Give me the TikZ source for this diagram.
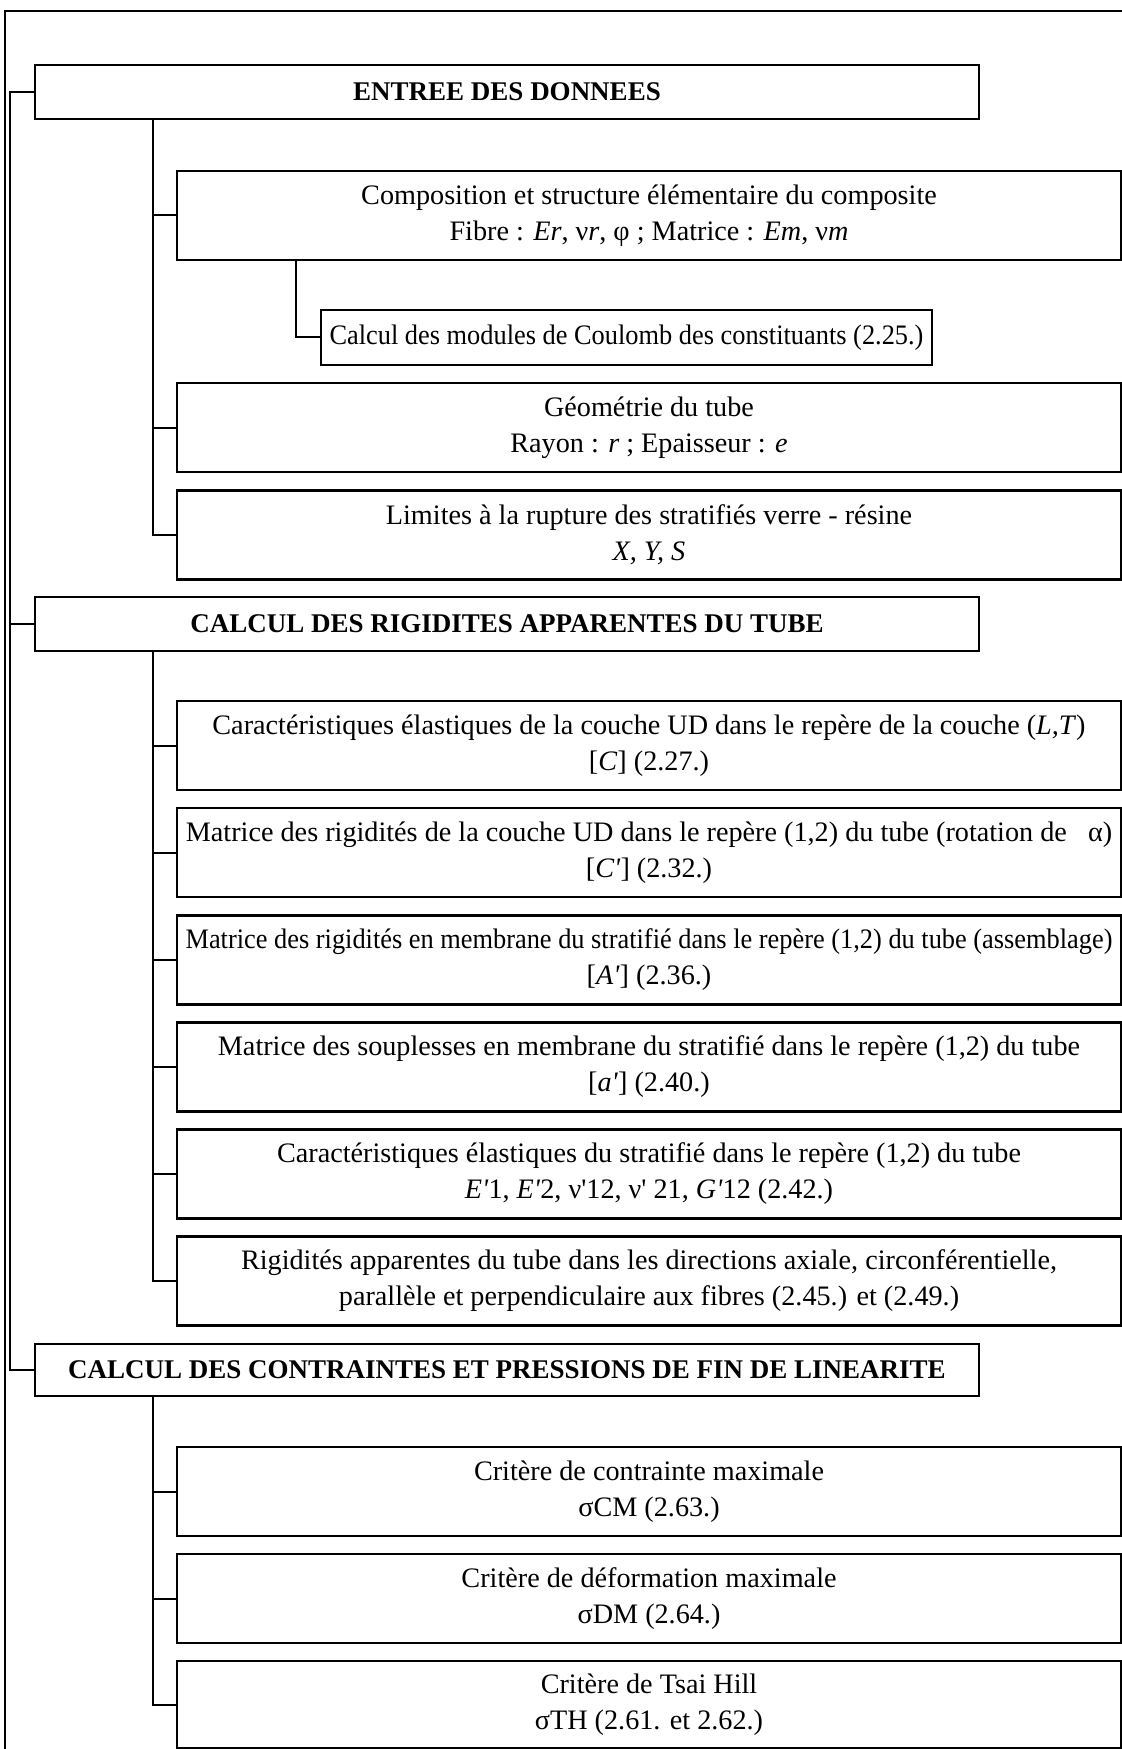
\documentclass[tikz,border=0pt]{standalone}
\usepackage{fontspec}
\setmainfont{Liberation Serif}[Ligatures=TeXOff]
\tikzset{
  box/.style={draw, line width=1.2pt, inner sep=0pt, align=center, font=\fontsize{14.1}{18}\selectfont},
  lvone/.style={box, minimum width=472pt, minimum height=27pt, font=\fontsize{13.5}{18}\selectfont\bfseries},
  lvtwo/.style={box, minimum width=472pt, minimum height=44.5pt},
  conn/.style={line width=1pt},
}
\begin{document}
\begin{tikzpicture}[x=0.5pt,y=-0.5pt]
\useasboundingbox (0,0) rectangle (1122,1749);
% outer frame
\draw[line width=0.9pt] (5,1749) -- (5,11) -- (1122,11);
\coordinate (L0) at (10,0);
\coordinate (T1) at (153,0);
\coordinate (T2) at (296,0);
% level 1
\node[lvone] (e1) at (507,92) {ENTREE DES DONNEES};
\node[lvone] (r1) at (507,624) {CALCUL DES RIGIDITES APPARENTES DU TUBE};
\node[lvone, minimum height=26pt] (p1) at (507,1370) {CALCUL DES CONTRAINTES ET PRESSIONS DE FIN DE LINEARITE};
% entree
\node[lvtwo] (comp) at (649,215.5) {Composition et structure élémentaire du composite\\Fibre : \textit{Er}, ν\textit{r}, φ ; Matrice : \textit{Em}, ν\textit{m}};
\node[box, minimum width=305.5pt, minimum height=27.5pt] (coul) at (626.5,337.5) {\scalebox{0.935}[1]{Calcul des modules de Coulomb des constituants (2.25.)}};
\node[lvtwo] (geo) at (649,427.5) {Géométrie du tube\\Rayon : \textit{r} ; Epaisseur : \textit{e}};
\node[lvtwo] (lim) at (649,535) {Limites à la rupture des stratifiés verre - résine\\\textit{X, Y, S}};
% rigidites
\node[lvtwo] (c1) at (649,745.5) {Caractéristiques élastiques de la couche UD dans le repère de la couche (\textit{L,T})\hspace{8pt}\\{}[\textit{C}] (2.27.)};
\node[lvtwo] (c2) at (649,852.5) {Matrice des rigidités de la couche UD dans le repère (1,2) du tube (rotation de \ \ α)\\{}[\textit{C'}] (2.32.)};
\node[lvtwo] (c3) at (649,960) {\scalebox{0.935}[1]{Matrice des rigidités en membrane du stratifié dans le repère (1,2) du tube (assemblage)}\\{}[\textit{A'}] (2.36.)};
\node[lvtwo] (c4) at (649,1067) {Matrice des souplesses en membrane du stratifié dans le repère (1,2) du tube\\{}[\textit{a'}] (2.40.)};
\node[lvtwo] (c5) at (649,1174) {Caractéristiques élastiques du stratifié dans le repère (1,2) du tube\\\textit{E'}1, \textit{E'}2, ν'12, ν' 21, \textit{G'}12 (2.42.)};
\node[lvtwo] (c6) at (649,1281) {Rigidités apparentes du tube dans les directions axiale, circonférentielle,\\parallèle et perpendiculaire aux fibres (2.45.) et (2.49.)};
% contraintes
\node[lvtwo] (s1) at (649,1491.5) {Critère de contrainte maximale\\σCM (2.63.)};
\node[lvtwo] (s2) at (649,1598.5) {Critère de déformation maximale\\σDM (2.64.)};
\node[lvtwo, minimum height=43.5pt] (s3) at (649,1704.5) {Critère de Tsai Hill\\σTH (2.61. et 2.62.)};
% main spine
\draw[conn] (e1.west) -- (e1.west -| L0) -- (p1.west -| L0) -- (p1.west);
\draw[conn] (r1.west -| L0) -- (r1.west);
% entree branch
\draw[conn] (e1.south -| T1) |- (lim.west);
\draw[conn] (comp.west -| T1) -- (comp.west);
\draw[conn] (geo.west -| T1) -- (geo.west);
\draw[conn] (comp.south -| T2) |- (coul.west);
% rigidites branch
\draw[conn] (r1.south -| T1) |- (c6.west);
\foreach \n in {c1,c2,c3,c4,c5} \draw[conn] (\n.west -| T1) -- (\n.west);
% contraintes branch
\draw[conn] (p1.south -| T1) |- (s3.west);
\draw[conn] (s1.west -| T1) -- (s1.west);
\draw[conn] (s2.west -| T1) -- (s2.west);
\end{tikzpicture}
\end{document}
